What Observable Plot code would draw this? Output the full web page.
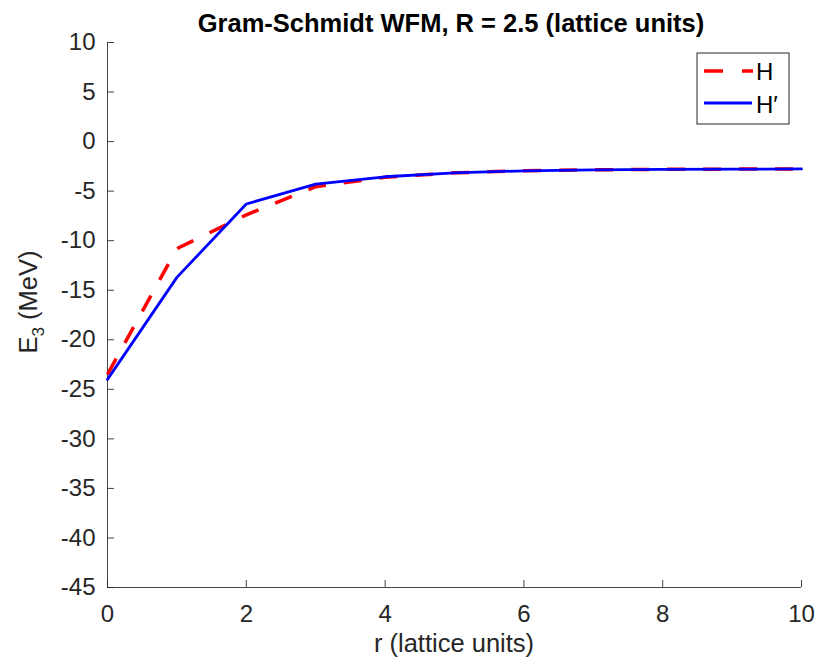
<!DOCTYPE html>
<html>
<head>
<meta charset="utf-8">
<script src="https://cdn.jsdelivr.net/npm/d3@7"></script>
<script src="https://cdn.jsdelivr.net/npm/@observablehq/plot@0.6"></script>
<style>
  html, body { margin: 0; padding: 0; background: #fff; }
  #chart { width: 821px; height: 662px; }
  svg { font-family: "Liberation Sans", Arial, Helvetica, sans-serif; }
</style>
</head>
<body>
<div id="chart"></div>
<script>
// ---- data ----
const rValues = [0, 1, 2, 3, 4, 5, 6, 7, 8, 9, 10];
const energyH = [-23.5, -10.8, -7.4, -4.55, -3.6, -3.15, -2.95, -2.85, -2.8, -2.78, -2.76];
const energyHprime = [-24.0, -13.7, -6.3, -4.3, -3.55, -3.15, -2.95, -2.85, -2.8, -2.78, -2.76];
const xTicks = [0, 2, 4, 6, 8, 10];
const yTicks = [10, 5, 0, -5, -10, -15, -20, -25, -30, -35, -40, -45];
const seriesNames = ["H", "H\u2032"];
const titleText = "Gram-Schmidt WFM, R = 2.5 (lattice units)";
const xLabel = "r (lattice units)";

const dataH = rValues.map((r, i) => ({r, e: energyH[i]}));
const dataHp = rValues.map((r, i) => ({r, e: energyHprime[i]}));

const ink = "#262626";
const W = 821, H = 662;
const mL = 107, mR = 20, mT = 42, mB = 75;
const xDom = [0, 10], yDom = [-45, 10];
// inward tick length expressed in data units (~7px)
const tickLenX = 7 * (xDom[1] - xDom[0]) / (W - mL - mR);
const tickLenY = 7 * (yDom[1] - yDom[0]) / (H - mT - mB);

const plot = Plot.plot({
  width: W, height: H,
  marginLeft: mL, marginRight: mR, marginTop: mT, marginBottom: mB,
  style: {fontFamily: "Liberation Sans, Arial, sans-serif", color: ink, background: "white"},
  x: {domain: xDom, label: null},
  y: {domain: yDom, label: null},
  marks: [
    Plot.axisX({ticks: xTicks, tickSize: 0, tickPadding: 17, fontSize: 24, tickFormat: d => String(d), label: null}),
    Plot.axisY({ticks: yTicks, tickSize: 0, tickPadding: 12, fontSize: 24, tickFormat: d => String(d), label: null}),
    // axis lines
    Plot.ruleX([xDom[0]], {stroke: ink, strokeWidth: 1, strokeOpacity: 0.85}),
    Plot.ruleY([yDom[0]], {stroke: ink, strokeWidth: 1, strokeOpacity: 0.85}),
    // inward ticks
    Plot.ruleY(yTicks, {y: d => d, x1: xDom[0], x2: xDom[0] + tickLenX, stroke: ink, strokeOpacity: 0.85}),
    Plot.ruleX(xTicks, {x: d => d, y1: yDom[0], y2: yDom[0] + tickLenY, stroke: ink, strokeOpacity: 0.85}),
    // series
    Plot.line(dataH, {x: "r", y: "e", stroke: "#ff0000", strokeWidth: 3.5, strokeDasharray: "18,18", strokeLinecap: "butt"}),
    Plot.line(dataHp, {x: "r", y: "e", stroke: "#0000ff", strokeWidth: 2.8})
  ]
});
document.getElementById("chart").appendChild(plot);

const svg = d3.select(plot);
// title
svg.append("text")
  .attr("x", (mL + W - mR) / 2 - 3).attr("y", 32)
  .attr("text-anchor", "middle")
  .attr("font-size", 25.5).attr("font-weight", "bold").attr("fill", "#000")
  .text(titleText);
// x label
svg.append("text")
  .attr("x", (mL + W - mR) / 2).attr("y", 652)
  .attr("text-anchor", "middle")
  .attr("font-size", 25.5).attr("fill", ink)
  .text(xLabel);
// y label with subscript
const yl = svg.append("text")
  .attr("transform", `translate(37,${302}) rotate(-90)`)
  .attr("text-anchor", "middle")
  .attr("font-size", 25.5).attr("fill", ink);
yl.append("tspan").text("E");
yl.append("tspan").attr("font-size", 17).attr("dy", 7).text("3");
yl.append("tspan").attr("dy", -7).text(" (MeV)");

// legend
const lg = svg.append("g").attr("transform", "translate(697,53)").attr("text-anchor", "start");
lg.append("rect").attr("width", 92).attr("height", 71)
  .attr("fill", "white").attr("stroke", ink).attr("stroke-width", 1);
lg.append("line").attr("x1", 7).attr("x2", 56).attr("y1", 18).attr("y2", 18)
  .attr("stroke", "#ff0000").attr("stroke-width", 3.5).attr("stroke-dasharray", "19,19");
lg.append("line").attr("x1", 7).attr("x2", 55).attr("y1", 50).attr("y2", 50)
  .attr("stroke", "#0000ff").attr("stroke-width", 2.8);
lg.append("text").attr("x", 59).attr("y", 27).attr("text-anchor", "start").attr("font-size", 24).attr("fill", "#000").text(seriesNames[0]);
lg.append("text").attr("x", 59).attr("y", 60).attr("text-anchor", "start").attr("font-size", 24).attr("fill", "#000").text(seriesNames[1]);
</script>
</body>
</html>
